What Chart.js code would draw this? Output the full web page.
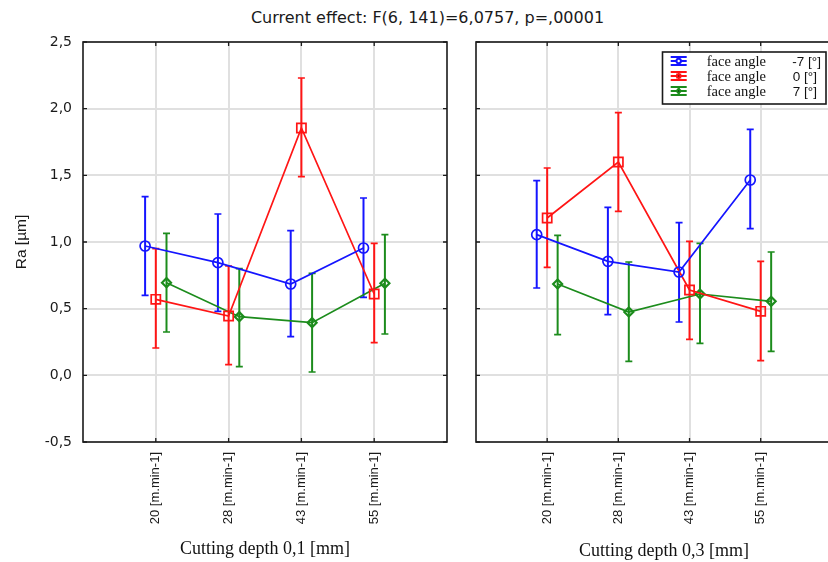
<!DOCTYPE html>
<html><head><meta charset="utf-8">
<script src="https://cdn.jsdelivr.net/npm/chart.js@4.4.1/dist/chart.umd.min.js"></script>
<style>
html,body{margin:0;padding:0;width:828px;height:562px;overflow:hidden;background:#fff;}
#title{position:absolute;left:0;width:855px;top:8px;text-align:center;font-family:"DejaVu Sans";font-size:16px;line-height:20px;color:#1a1a1a;white-space:nowrap;}
#c1{position:absolute;left:0;top:0;}
#c2{position:absolute;left:447px;top:0;}
</style></head><body>
<div id="title">Current effect: F(6, 141)=6,0757, p=,00001</div>
<canvas id="c1" width="470" height="562"></canvas>
<canvas id="c2" width="413" height="562"></canvas>
<script>
// ---------- data ----------
const categories = ['20 [m.min-1]', '28 [m.min-1]', '43 [m.min-1]', '55 [m.min-1]'];
const angleLabels = ['-7 [°]', '0 [°]', '7 [°]'];
const yTickValues = [-0.5, 0, 0.5, 1.0, 1.5, 2.0, 2.5];

// Cutting depth 0,1 [mm]
const d01_m7_mean = [0.97, 0.845, 0.685, 0.955];
const d01_m7_low  = [0.60, 0.48, 0.29, 0.585];
const d01_m7_high = [1.34, 1.21, 1.085, 1.33];
const d01_0_mean  = [0.57, 0.445, 1.855, 0.61];
const d01_0_low   = [0.205, 0.08, 1.49, 0.245];
const d01_0_high  = [0.95, 0.82, 2.23, 0.99];
const d01_7_mean  = [0.695, 0.44, 0.395, 0.69];
const d01_7_low   = [0.325, 0.065, 0.025, 0.31];
const d01_7_high  = [1.065, 0.80, 0.765, 1.055];

// Cutting depth 0,3 [mm]
const d03_m7_mean = [1.055, 0.855, 0.775, 1.465];
const d03_m7_low  = [0.655, 0.455, 0.40, 1.10];
const d03_m7_high = [1.46, 1.26, 1.145, 1.845];
const d03_0_mean  = [1.18, 1.60, 0.64, 0.48];
const d03_0_low   = [0.81, 1.23, 0.27, 0.11];
const d03_0_high  = [1.555, 1.97, 1.005, 0.855];
const d03_7_mean  = [0.685, 0.475, 0.61, 0.555];
const d03_7_low   = [0.305, 0.105, 0.24, 0.18];
const d03_7_high  = [1.05, 0.85, 0.99, 0.925];

// ---------- styling ----------
const colors = ['#1515ff', '#ff1515', '#1c8c1c'];
const pointStyles = ['circle', 'rect', 'rectRot'];
const pointRadii = [5, 6.5, 4.5];
const dodge = [-0.147, 0, 0.147];
const SANS = '"Liberation Sans", Arial, sans-serif';
const SERIF = '"Liberation Serif", "Times New Roman", serif';

function buildDatasets(means, lows, highs) {
  return means.map((m, s) => ({
    label: 'face angle ' + angleLabels[s],
    data: m.map((v, i) => ({ x: i + 1 + dodge[s], y: v })),
    errLow: lows[s],
    errHigh: highs[s],
    showLine: true,
    borderColor: colors[s],
    backgroundColor: 'rgba(0,0,0,0)',
    borderWidth: 1.7,
    pointStyle: pointStyles[s],
    pointRadius: pointRadii[s],
    pointBorderWidth: s === 2 ? 2.2 : 1.7,
    pointBorderColor: colors[s],
    pointBackgroundColor: 'rgba(0,0,0,0)',
    tension: 0
  }));
}

const framePlugin = {
  id: 'frame',
  beforeDatasetsDraw(chart) {
    const { ctx, chartArea: { left, right, top, bottom } } = chart;
    const xs = chart.scales.x, ys = chart.scales.y;
    ctx.save();
    ctx.strokeStyle = '#1a1a1a';
    ctx.lineWidth = 1.6;
    ctx.strokeRect(left, top, right - left, bottom - top);
    ctx.lineWidth = 1.3;
    ctx.beginPath();
    ys.ticks.forEach(t => {
      const y = ys.getPixelForValue(t.value);
      ctx.moveTo(left, y); ctx.lineTo(left + 4, y);
      ctx.moveTo(right, y); ctx.lineTo(right - 4, y);
    });
    xs.ticks.forEach(t => {
      const x = xs.getPixelForValue(t.value);
      ctx.moveTo(x, top); ctx.lineTo(x, top + 4);
      ctx.moveTo(x, bottom); ctx.lineTo(x, bottom - 4);
    });
    ctx.stroke();
    ctx.restore();
  }
};

const errorBarPlugin = {
  id: 'errorBars',
  beforeDatasetsDraw(chart) {
    const ctx = chart.ctx, xs = chart.scales.x, ys = chart.scales.y;
    ctx.save();
    chart.data.datasets.forEach(ds => {
      ctx.strokeStyle = ds.borderColor;
      ds.data.forEach((p, j) => {
        const x = xs.getPixelForValue(p.x);
        const yl = ys.getPixelForValue(ds.errLow[j]);
        const yh = ys.getPixelForValue(ds.errHigh[j]);
        ctx.lineWidth = 2;
        ctx.beginPath();
        ctx.moveTo(x, yl); ctx.lineTo(x, yh);
        ctx.stroke();
        ctx.lineWidth = 1.7;
        ctx.beginPath();
        ctx.moveTo(x - 3.5, yl); ctx.lineTo(x + 3.5, yl);
        ctx.moveTo(x - 3.5, yh); ctx.lineTo(x + 3.5, yh);
        ctx.stroke();
      });
    });
    ctx.restore();
  }
};

const legendPlugin = {
  id: 'errLegend',
  afterDraw(chart) {
    const ctx = chart.ctx;
    const bx = 215.5, by = 52, bw = 163.5, bh = 52;
    ctx.save();
    ctx.fillStyle = '#fff';
    ctx.fillRect(bx, by, bw, bh);
    ctx.strokeStyle = '#1a1a1a';
    ctx.lineWidth = 1.6;
    ctx.strokeRect(bx, by, bw, bh);
    chart.data.datasets.forEach((ds, s) => {
      const cy = 61 + 15 * s;
      const cx = 231.7;
      ctx.strokeStyle = ds.borderColor;
      ctx.lineWidth = 2;
      ctx.beginPath();
      ctx.moveTo(cx - 8, cy - 4); ctx.lineTo(cx + 8, cy - 4);
      ctx.moveTo(cx - 8, cy); ctx.lineTo(cx + 8, cy);
      ctx.moveTo(cx - 8, cy + 4); ctx.lineTo(cx + 8, cy + 4);
      ctx.moveTo(cx, cy - 4); ctx.lineTo(cx, cy + 4);
      ctx.stroke();
      Chart.helpers.drawPoint(ctx, { pointStyle: ds.pointStyle, radius: 2.2, borderWidth: 1.2 }, cx, cy);
      ctx.fillStyle = '#111';
      ctx.font = '14.5px ' + SERIF;
      ctx.textAlign = 'left';
      ctx.textBaseline = 'alphabetic';
      ctx.fillText('face angle', 259.7, cy + 4.5);
      ctx.font = '13.5px ' + SANS;
      ctx.textAlign = 'right';
      ctx.fillText(angleLabels[s], s === 0 ? 374 : 370, cy + 4.5);
    });
    ctx.restore();
  }
};

function makePanel(canvasId, datasets, opt) {
  return new Chart(document.getElementById(canvasId), {
    type: 'scatter',
    data: { datasets },
    plugins: opt.legend ? [framePlugin, errorBarPlugin, legendPlugin] : [framePlugin, errorBarPlugin],
    options: {
      responsive: false,
      animation: false,
      devicePixelRatio: 1,
      layout: { padding: { left: 0, top: 42, right: opt.padRight, bottom: 0 } },
      plugins: { legend: { display: false }, tooltip: { enabled: false }, title: { display: false } },
      scales: {
        x: {
          type: 'linear',
          min: 0,
          max: opt.xMax,
          afterBuildTicks: s => { s.ticks = categories.map((c, i) => ({ value: i + 1 })); },
          afterFit: s => { s.height = 120; },
          grid: { color: '#e0e0e0', lineWidth: 2, drawTicks: false },
          border: { display: false },
          ticks: {
            autoSkip: false, minRotation: 90, maxRotation: 90, padding: 10,
            font: { family: SANS, size: 13 }, color: '#1a1a1a',
            callback: v => categories[Math.round(v) - 1]
          },
          title: {
            display: true, text: opt.xTitle,
            font: { family: SERIF, size: 18 }, color: '#111',
            padding: { top: 0, bottom: opt.titlePad }
          }
        },
        y: {
          type: 'linear',
          min: -0.5,
          max: 2.5,
          afterBuildTicks: s => { s.ticks = yTickValues.map(v => ({ value: v })); },
          afterFit: s => { s.width = opt.yWidth; },
          grid: { color: '#e0e0e0', lineWidth: 2, drawTicks: false },
          border: { display: false },
          ticks: {
            display: opt.yLabels, padding: 11,
            font: { family: '"DejaVu Sans", sans-serif', size: 14 }, color: '#1a1a1a',
            callback: v => v.toFixed(1).replace('.', ',')
          },
          title: {
            display: opt.yLabels, text: 'Ra [µm]',
            font: { family: SANS, size: 15.5 }, color: '#1a1a1a',
            padding: { top: 12, bottom: 0 }
          }
        }
      }
    }
  });
}

makePanel('c1',
  buildDatasets([d01_m7_mean, d01_0_mean, d01_7_mean], [d01_m7_low, d01_0_low, d01_7_low], [d01_m7_high, d01_0_high, d01_7_high]),
  { xMax: 5, padRight: 23, yWidth: 83, yLabels: true, xTitle: 'Cutting depth 0,1 [mm]', titlePad: 2, legend: false });

makePanel('c2',
  buildDatasets([d03_m7_mean, d03_0_mean, d03_7_mean], [d03_m7_low, d03_0_low, d03_7_low], [d03_m7_high, d03_0_high, d03_7_high]),
  { xMax: 5.28, padRight: 0, yWidth: 29, yLabels: false, xTitle: 'Cutting depth 0,3 [mm]', titlePad: 0, legend: true });
</script>
</body></html>
